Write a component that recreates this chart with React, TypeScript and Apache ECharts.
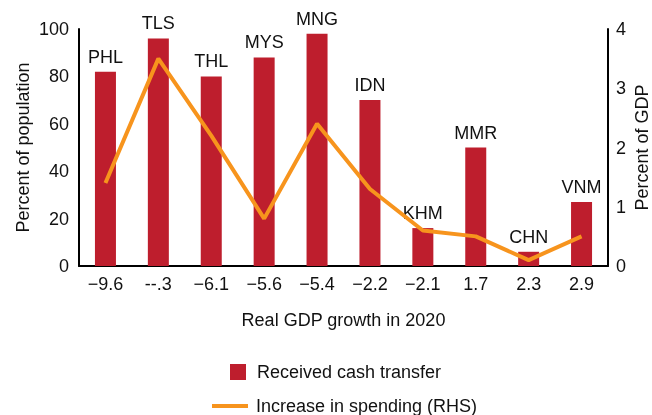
import React, { useEffect, useRef } from "react";
import * as echarts from "echarts";

const categories = ["\u22129.6", "--.3", "\u22126.1", "\u22125.6", "\u22125.4", "\u22122.2", "\u22122.1", "1.7", "2.3", "2.9"];
const countries = ["PHL", "TLS", "THL", "MYS", "MNG", "IDN", "KHM", "MMR", "CHN", "VNM"];
const cashTransfer = [82, 96, 80, 88, 98, 70, 16, 50, 6, 27];
const spending = [1.4, 3.5, 2.2, 0.8, 2.4, 1.3, 0.6, 0.5, 0.1, 0.5];
const leftTicks = { min: 0, max: 100, interval: 20 };
const rightTicks = { min: 0, max: 4, interval: 1 };

const FONT = "Liberation Sans";
const TXT = "#111";

export default function App() {
  const ref = useRef<HTMLDivElement>(null);
  useEffect(() => {
    if (!ref.current) return;
    const chart = echarts.init(ref.current, undefined, { renderer: "svg" });
    chart.setOption({
      animation: false,
      textStyle: { fontFamily: FONT, color: TXT },
      grid: { left: 79, right: 44, top: 29, bottom: 149, containLabel: false, outerBoundsMode: "none" },
      legend: [
        {
          data: ["Received cash transfer"],
          left: 225,
          top: 358,
          orient: "vertical",
          icon: "rect",
          itemWidth: 16,
          itemHeight: 16,
          textStyle: { fontSize: 18, color: TXT, fontFamily: FONT, padding: [0, 0, 0, 6] },
        },
        {
          data: ["Increase in spending (RHS)"],
          left: 207,
          top: 392,
          orient: "vertical",
          icon: "rect",
          itemWidth: 36,
          itemHeight: 4,
          textStyle: { fontSize: 18, color: TXT, fontFamily: FONT, padding: [0, 0, 0, 3] },
        },
      ],
      xAxis: {
        type: "category",
        data: categories,
        axisLine: { lineStyle: { color: "#000", width: 2 } },
        axisTick: { show: false },
        axisLabel: { fontSize: 18, color: TXT, margin: 9, fontFamily: FONT },
        name: "Real GDP growth in 2020",
        nameLocation: "middle",
        nameGap: 45,
        nameMoveOverlap: false,
        nameTextStyle: { fontSize: 18, color: TXT, fontFamily: FONT },
      },
      yAxis: [
        {
          type: "value",
          ...leftTicks,
          position: "left",
          axisLine: { show: true, lineStyle: { color: "#000", width: 2 } },
          axisTick: { show: false },
          splitLine: { show: false },
          axisLabel: { fontSize: 18, color: TXT, margin: 10, fontFamily: FONT },
          name: "Percent of population",
          nameLocation: "middle",
          nameGap: 47,
          nameMoveOverlap: false,
          nameTextStyle: { fontSize: 18, color: TXT, fontFamily: FONT },
        },
        {
          type: "value",
          ...rightTicks,
          position: "right",
          axisLine: { show: true, lineStyle: { color: "#000", width: 2 } },
          axisTick: { show: false },
          splitLine: { show: false },
          axisLabel: { fontSize: 18, color: TXT, margin: 8, fontFamily: FONT },
          name: "Percent of GDP",
          nameLocation: "middle",
          nameGap: 25,
          nameMoveOverlap: false,
          nameTextStyle: { fontSize: 18, color: TXT, fontFamily: FONT },
        },
      ],
      series: [
        {
          name: "Received cash transfer",
          type: "bar",
          data: cashTransfer,
          barWidth: 21,
          itemStyle: { color: "#BE1E2D" },
          label: {
            show: true,
            position: "top",
            distance: 6,
            fontSize: 18,
            color: TXT,
            fontFamily: FONT,
            formatter: (p: any) => countries[p.dataIndex],
          },
        },
        {
          name: "Increase in spending (RHS)",
          type: "line",
          yAxisIndex: 1,
          data: spending,
          symbol: "none",
          z: 5,
          lineStyle: { color: "#F7941D", width: 4 },
          itemStyle: { color: "#F7941D" },
        },
      ],
    });
    return () => chart.dispose();
  }, []);
  return <div ref={ref} style={{ position: "fixed", left: 0, top: 0, width: 652, height: 415 }} />;
}
